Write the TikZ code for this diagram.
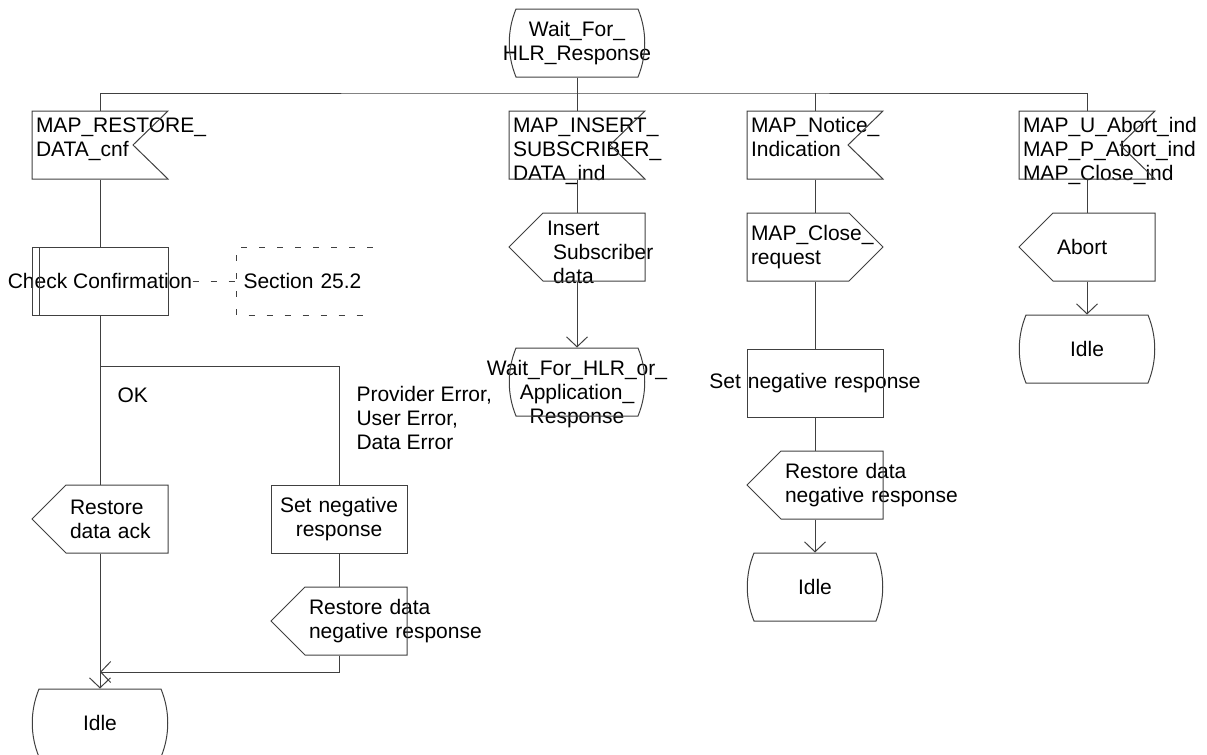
\documentclass[tikz,border=0pt]{standalone}
\usepackage{fontspec}
\setmainfont{Liberation Sans}
\usetikzlibrary{arrows.meta}
\hyphenpenalty=10000
\begin{document}
\begin{tikzpicture}[x=.5pt,y=-.5pt,line width=.5pt,draw=black!75,font=\fontsize{10.5}{12}\selectfont,
  sdlbox/.style={inner sep=0,minimum width=68pt,minimum height=34pt},
  inbox/.style={sdlbox,inner xsep=2pt,text width=64pt,align=left,text height=8pt,text depth=20pt},
  outl/.style={sdlbox,inner xsep=19pt,text width=30pt,align=left},
  outr/.style={sdlbox,inner xsep=2pt,text width=64pt,align=left},
  taskbox/.style={sdlbox,text width=110pt,align=center},
  statebox/.style={sdlbox,text width=100pt,align=center},
  procbox/.style={sdlbox},
  cmtbox/.style={sdlbox,inner xsep=3.5pt,text width=61pt,align=left,anchor=west},
  cmtline/.style={dash pattern=on 3pt off 6pt},
  flow/.style={-{Straight Barb[length=5pt,width=10.5pt]}}]
\useasboundingbox (0,0) rectangle (1207,755);
\node[statebox] (wfr) at (577,43) {Wait\_For\_\\HLR\_Response};
\coordinate (bus) at (577,93);
\node[inbox] (in1) at (100,145) {MAP\_RESTORE\_\\DATA\_cnf};
\node[inbox] (in2) at (577,145) {MAP\_INSERT\_\\SUBSCRIBER\_\\DATA\_ind};
\node[inbox] (in3) at (815,145) {MAP\_Notice\_\\Indication};
\node[inbox] (in4) at (1087,145) {MAP\_U\_Abort\_ind\\MAP\_P\_Abort\_ind\\MAP\_Close\_ind};
\node[procbox] (cc) at (100,281) {Check Confirmation};\node[cmtbox] (sec) at (236,281) {Section~25.2};
\coordinate (dec) at (100,366);\coordinate (j1) at (100,672);
\node[anchor=west,inner sep=0] (ok) at (117,395) {OK};
\node[anchor=west,inner sep=0,align=left] (err) at (356,418) {Provider Error,\\User Error,\\Data Error};
\node[outl] (out1) at (100,519) {Restore\\data~ack};
\node[taskbox] (tsk1) at (339,519) {Set negative\\response};
\node[outl] (out2) at (339,621) {Restore~data\\negative~response};
\node[statebox] (idle1) at (100,723) {Idle};
\node[outl,text depth=19pt] (out3) at (577,247) {Insert\\\hspace*{3pt}Subscriber\\\hspace*{3pt}data};
\node[statebox,text height=8pt,text depth=15pt] (st2) at (577,382) {Wait\_For\_HLR\_or\_\\Application\_\\Response};
\node[outr] (out4) at (815,247) {MAP\_Close\_\\request};
\node[taskbox] (tsk2) at (815,383) {Set negative response};
\node[outl] (out5) at (815,485) {Restore~data\\negative~response};
\node[statebox] (idle3) at (815,587) {Idle};
\node[outl] (out6) at (1087,247) {Abort};
\node[statebox] (idle4) at (1087,349) {Idle};
\foreach \n in {in1,in2,in3,in4}\draw[shift={(\n.center)}] (68,-34)--(-68,-34)--(-68,34)--(68,34)--(33,0)--cycle;
\foreach \n in {out1,out2,out3,out5,out6}\draw[shift={(\n.center)}] (-34,-34)--(68,-34)--(68,34)--(-34,34)--(-68,0)--cycle;
\draw[shift={(out4.center)}] (-68,-34)--(34,-34)--(68,0)--(34,34)--(-68,34)--cycle;
\foreach \n in {tsk1,tsk2}\draw[shift={(\n.center)}] (-68,-34) rectangle (68,34);
\draw[shift={(cc.center)}] (-68,-34) rectangle (68,34) (-61,-34)--(-61,34);
\draw[shift={(sec.center)},cmtline] (68,-34)--(-68,-34)--(-68,34)--(68,34);
\foreach \n in {wfr,st2,idle1,idle3,idle4}\draw[shift={(\n.center)}] (-61,-34)--(61,-34) .. controls (70,-12) and (70,12) .. (61,34)--(-61,34) .. controls (-70,12) and (-70,-12) .. (-61,-34)--cycle;
\draw (wfr.south)--(in2.north);\draw (in1.north) |- (bus) -| (in4.north);\draw (in3.north)--(in3.north |- bus);
\draw (in1.south)--(cc.north);\draw[cmtline] (cc.east)--(sec.west);
\draw (cc.south)--(out1.north);\draw (dec) -| (tsk1.north);
\draw[flow] (out1.south)--(idle1.north);\draw (tsk1.south)--(out2.north);\draw[flow] (out2.south) |- (j1);
\draw (in2.south)--(out3.north);\draw[flow] (out3.south)--(st2.north);
\draw (in3.south)--(out4.north);\draw (out4.south)--(tsk2.north);\draw (tsk2.south)--(out5.north);\draw[flow] (out5.south)--(idle3.north);
\draw (in4.south)--(out6.north);\draw[flow] (out6.south)--(idle4.north);
\end{tikzpicture}
\end{document}
